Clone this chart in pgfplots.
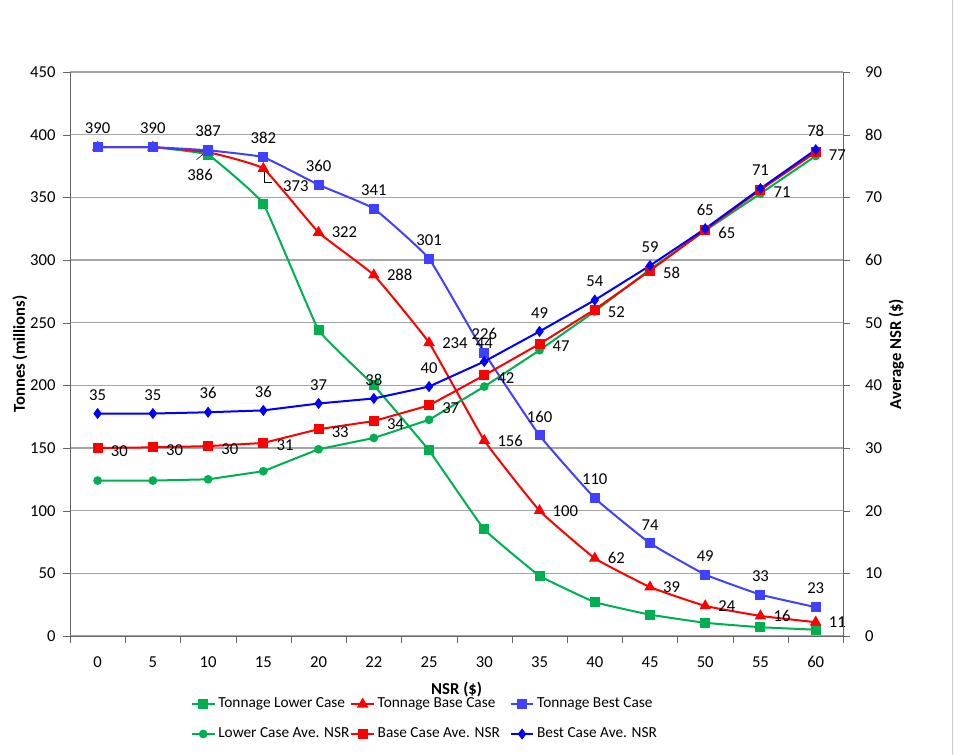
\documentclass[border=0pt]{standalone}
\usepackage{pgfplots}
\pgfplotsset{compat=1.18}
\usepackage{fontspec}
\setmainfont{Carlito}
\definecolor{cgreen}{RGB}{0,176,80}
\definecolor{cred}{RGB}{255,0,0}
\definecolor{cblueT}{RGB}{64,64,255}
\definecolor{cblueN}{RGB}{0,0,255}
\newcommand{\legtxt}[1]{\makebox[97pt][l]{#1}}
\begin{document}
\fontsize{12.5}{15}\selectfont
\begin{tikzpicture}
\pgfplotsset{
  common/.style={
    scale only axis, width=580pt, height=423pt,
    xmin=-0.5, xmax=13.5,
    /pgf/number format/assume math mode=true,
    tick label style={font=\fontsize{12.5}{15}\selectfont},
    label style={font=\fontsize{12.5}{15}\selectfont\bfseries},
    axis line style={gray!80!black},
    tick style={gray!80!black},
    tick align=outside,
    every axis plot/.append style={line width=1.5pt},
    nodes near coords style={font=\fontsize{12.5}{15}\selectfont, text=black},
  }
}
\begin{axis}[common, name=left,
  ymin=0, ymax=450, ytick={0,50,...,450},
  xtick={0,...,13},
  xticklabels={0,5,10,15,20,22,25,30,35,40,45,50,55,60},
  major x tick style={draw=none},
  minor xtick={-0.5,0.5,...,13.5},
  minor tick length=5pt, major tick length=5pt,
  axis x line*=bottom, axis y line*=left,
  ymajorgrids, grid style={gray!70, line width=0.8pt},
  xticklabel style={yshift=-6pt},
  yticklabel style={xshift=-1.5pt},
  xlabel={NSR (\$)}, xlabel style={yshift=-2pt},
  ylabel={Tonnes (millions)}, ylabel style={yshift=-6.5pt},
  legend columns=3,
  legend style={at={(0.5,-0.1)}, anchor=north, xshift=-20pt, draw=none, fill=none,
    font=\fontsize{11.5}{14}\selectfont, row sep=9pt,
    /tikz/every even column/.append style={column sep=0pt},
    /tikz/every odd column/.append style={column sep=0pt}},
  legend cell align=left,
]
% Tonnage Lower Case
\addplot[cgreen, smooth, tension=0.15, mark=square*, mark size=3pt, mark options={solid}] coordinates {
(0,390) (1,390) (2,384) (3,345) (4,244) (5,200) (6,148) (7,85) (8,48) (9,27) (10,17) (11,10.5) (12,7) (13,5)};
\addlegendentry{\legtxt{Tonnage Lower Case}}
% Tonnage Base Case
\addplot[cred, smooth, tension=0.2, mark=triangle*, mark size=3.5pt] coordinates {
(0,390) (1,390) (2,386) (3,373) (4,322) (5,288) (6,234) (7,156) (8,100) (9,62) (10,39) (11,24) (12,16) (13,11)};
\addlegendentry{\legtxt{Tonnage Base Case}}
% Tonnage Best Case
\addplot[cblueT, smooth, tension=0.2, mark=square*, mark size=3pt] coordinates {
(0,390) (1,390) (2,387.5) (3,382) (4,360) (5,341) (6,301) (7,226) (8,160) (9,110) (10,74) (11,49) (12,33) (13,23)};
\addlegendentry{\legtxt{Tonnage Best Case}}
\addlegendimage{cgreen, line width=1.5pt, mark=*, mark size=2.5pt}
\addlegendentry{\legtxt{Lower Case Ave. NSR}}
\addlegendimage{cred, line width=1.5pt, mark=square*, mark size=3pt}
\addlegendentry{\legtxt{Base Case Ave. NSR}}
\addlegendimage{cblueN, line width=1.5pt, mark=diamond*, mark size=3pt}
\addlegendentry{\legtxt{Best Case Ave. NSR}}
% labels: tonnage best (above)
\addplot[draw=none, mark=none, forget plot, nodes near coords, point meta=explicit symbolic,
  nodes near coords align={anchor=south}, nodes near coords style={yshift=5pt}] coordinates {
(0,390) [390] (1,390) [390] (2,387.5) [387] (3,382) [382] (4,360) [360] (5,341) [341] (6,301) [301]
(7,226) [226] (8,160) [160] (9,110) [110] (10,74) [74] (11,49) [49] (12,33) [33] (13,23) [23]};
% labels: tonnage base (right)
\addplot[draw=none, mark=none, forget plot, nodes near coords, point meta=explicit symbolic,
  nodes near coords align={anchor=west}, nodes near coords style={xshift=5pt}] coordinates {
(4,322) [322] (5,288) [288] (6,234) [234] (7,156) [156] (8,100) [100] (9,62) [62] (10,39) [39] (11,24) [24] (12,16) [16] (13,11) [11]};
\addplot[draw=none, mark=none, forget plot, nodes near coords, point meta=explicit symbolic,
  nodes near coords align={anchor=north}, nodes near coords style={xshift=-6pt, yshift=-8pt}] coordinates {(2,386) [386]};
\addplot[draw=none, mark=none, forget plot, nodes near coords, point meta=explicit symbolic,
  nodes near coords align={anchor=west}, nodes near coords style={xshift=10pt, yshift=-13pt}] coordinates {(3,373) [373]};
% leader lines
\draw[black, line width=0.4pt] (axis cs:1.79,380) -- (axis cs:1.99,387.5);
\draw[black, line width=0.4pt] (axis cs:3.02,371) -- (axis cs:3.02,362) -- (axis cs:3.15,362);
\end{axis}
\begin{axis}[common,
  ymin=0, ymax=90, ytick={0,10,...,90},
  axis x line=none, axis y line*=right,
  major tick length=5pt,
  yticklabel style={xshift=7pt},
  ylabel={Average NSR (\$)}, ylabel style={yshift=3.5pt},
]
\addplot[cgreen, mark=*, mark size=2.5pt] coordinates {
(0,24.8) (1,24.8) (2,25.0) (3,26.3) (4,29.8) (5,31.6) (6,34.5) (7,39.8) (8,45.6) (9,51.8) (10,58.5) (11,64.7) (12,70.6) (13,76.6)};
\addplot[cred, mark=square*, mark size=3pt] coordinates {
(0,30) (1,30.1) (2,30.3) (3,30.8) (4,33) (5,34.3) (6,36.8) (7,41.6) (8,46.6) (9,52.1) (10,58.3) (11,64.8) (12,71.2) (13,77.2)};
\addplot[cblueN, mark=diamond*, mark size=3pt] coordinates {
(0,35.5) (1,35.5) (2,35.7) (3,36) (4,37.1) (5,37.9) (6,39.8) (7,43.8) (8,48.6) (9,53.6) (10,59.1) (11,65) (12,71.4) (13,77.6)};
% labels base NSR (right)
\addplot[draw=none, mark=none, nodes near coords, point meta=explicit symbolic,
  nodes near coords align={anchor=west}, nodes near coords style={xshift=5pt, yshift=-2pt}] coordinates {
(0,30) [30] (1,30.1) [30] (2,30.3) [30] (3,30.8) [31] (4,33) [33] (5,34.3) [34] (6,36.8) [37] (7,41.6) [42]
(8,46.6) [47] (9,52.1) [52] (10,58.3) [58] (11,64.8) [65] (12,71.2) [71] (13,77.2) [77]};
% labels best NSR (above)
\addplot[draw=none, mark=none, nodes near coords, point meta=explicit symbolic,
  nodes near coords align={anchor=south}, nodes near coords style={yshift=5pt}] coordinates {
(0,35.5) [35] (1,35.5) [35] (2,35.7) [36] (3,36) [36] (4,37.1) [37] (5,37.9) [38] (6,39.8) [40] (7,43.8) [44]
(8,48.6) [49] (9,53.6) [54] (10,59.1) [59] (11,65) [65] (12,71.4) [71] (13,77.6) [78]};
\end{axis}
\pgfresetboundingbox
\path[use as bounding box] ([shift={(-52.5pt,-89pt)}]left.south west) rectangle ([shift={(83pt,54pt)}]left.north east);
\draw[gray!40] ([shift={(82pt,54pt)}]left.north east) -- ([shift={(82pt,-89pt)}]left.south east);
\end{tikzpicture}
\end{document}
